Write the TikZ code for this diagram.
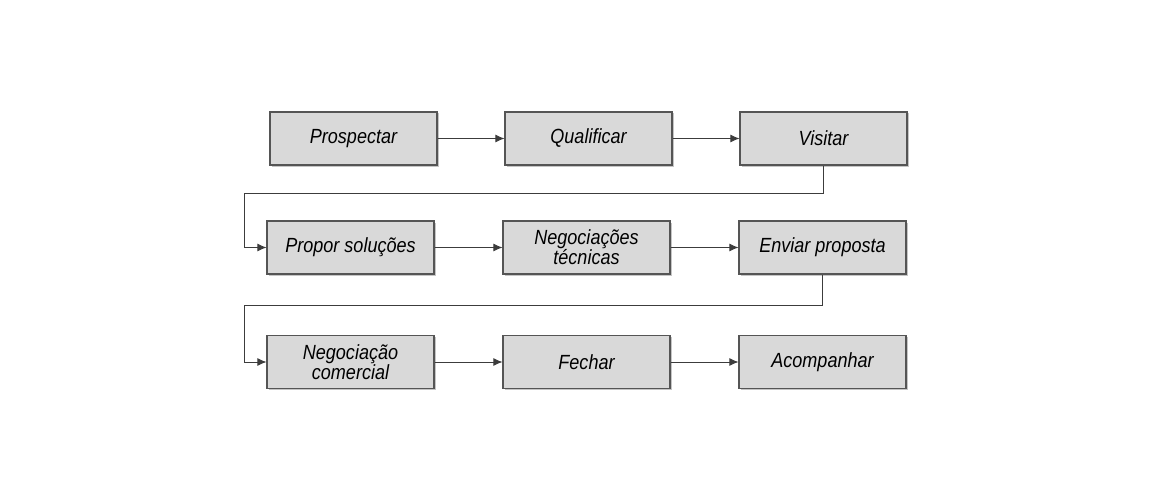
\documentclass[tikz,border=0pt]{standalone}
\usepackage{fontspec}
\setmainfont{Liberation Sans}
\newfontfamily\stagefont[FakeStretch=0.88]{Liberation Sans}
\usetikzlibrary{arrows.meta,shadows}
\tikzset{every node/.append style={align=center}}
\definecolor{boxfill}{RGB}{217, 217, 217}
\definecolor{boxline}{RGB}{85, 85, 85}
\definecolor{flowline}{RGB}{60, 60, 60}

\begin{document}
\begin{tikzpicture}[x=1pt, y=-1pt,
    stage/.style={draw=boxline, line width=1.1pt, fill=boxfill, minimum width=167pt, minimum height=53pt,
        font=\stagefont\fontsize{20.5}{20}\selectfont\itshape,
        drop shadow={shadow xshift=1.5pt, shadow yshift=-1.5pt, fill=black!45}},
    flow/.style={draw=flowline, line width=0.9pt, -{Latex[length=9pt, width=8pt]}}]
    \useasboundingbox (0,0) rectangle (1150,500);

    % First row
    \node[stage] (prospectar) at (353.5, 138.5) {Prospectar};
    \node[stage] (qualificar) at (588.5, 138.5) {Qualificar};
    \node[stage] (visitar) at (823.5, 138.5) {Visitar};

    % Second row
    \node[stage] (propor) at (350.5, 247.5) {Propor soluções};
    \node[stage] (negtec) at (586.5, 247.5) {Negociações\\técnicas};
    \node[stage] (enviar) at (822.5, 247.5) {Enviar proposta};

    % Third row
    \node[stage] (negcom) at (350.5, 362) {Negociação\\comercial};
    \node[stage] (fechar) at (586.5, 362) {Fechar};
    \node[stage] (acompanhar) at (822.5, 362) {Acompanhar};

    % Bends between rows
    \coordinate (turnA) at (244, 193);
    \coordinate (turnB) at (244, 305);

    % Flows
    \draw[flow] (prospectar) -- (qualificar);
    \draw[flow] (qualificar) -- (visitar);
    \draw[flow] (visitar.south) |- (turnA) |- (propor.west);
    \draw[flow] (propor) -- (negtec);
    \draw[flow] (negtec) -- (enviar);
    \draw[flow] (enviar.south) |- (turnB) |- (negcom.west);
    \draw[flow] (negcom) -- (fechar);
    \draw[flow] (fechar) -- (acompanhar);
\end{tikzpicture}
\end{document}
